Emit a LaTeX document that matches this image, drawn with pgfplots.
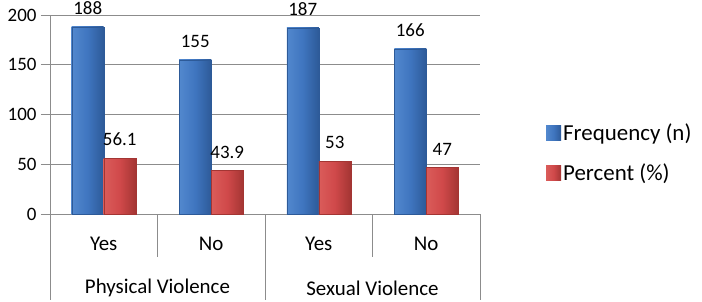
\documentclass[border=0pt]{standalone}
\usepackage{pgfplots}
\pgfplotsset{compat=1.18}
\usepackage{fontspec}
\setmainfont{Carlito}
\definecolor{bluemid}{HTML}{3F75BF}
\definecolor{bluelight}{HTML}{5288CE}
\definecolor{bluedark}{HTML}{2D5A98}
\definecolor{redmid}{HTML}{D0494A}
\definecolor{redlight}{HTML}{DA5C5A}
\definecolor{reddark}{HTML}{A33533}
\definecolor{axgray}{HTML}{8C8C8C}
\pgfplotsset{
  bluebar/.style={ybar, bar width=32bp, bar shift=-16bp, draw=bluedark, line width=0.3pt,
    left color=bluelight, right color=bluedark, middle color=bluemid,
    every node near coord/.append style={xshift=-16bp}},
  redbar/.style={ybar, bar width=32bp, bar shift=16bp, draw=reddark, line width=0.3pt,
    left color=redlight, right color=reddark, middle color=redmid,
    every node near coord/.append style={xshift=16bp}},
}
\begin{document}
\begin{tikzpicture}[font=\fontsize{21}{25}\selectfont]
\begin{axis}[
  scale only axis,
  width=430bp, height=199bp,
  xmin=-0.5, xmax=3.5,
  ymin=0, ymax=200,
  ytick={0,50,100,150,200},
  xtick={0,1,2,3},
  xticklabels={Yes,No,Yes,No},
  axis lines*=left,
  axis line style={axgray, line width=0.8pt},
  ymajorgrids,
  grid style={axgray, line width=0.8pt},
  major y tick style={axgray, line width=0.8pt},
  major x tick style={draw=none},
  tick align=outside,
  major tick length=9bp,
  yticklabel style={xshift=-1bp, font=\fontsize{19}{23}\selectfont},
  xticklabel style={yshift=-11bp},
  /pgf/number format/assume math mode=true,
  clip=false,
  nodes near coords,
  nodes near coords style={font=\fontsize{19}{23}\selectfont, inner sep=0bp, yshift=12bp},
  legend cell align=left,
  legend style={at={(rel axis cs:1.1465,0.307)}, anchor=west, draw=none, fill=none,
    font=\fontsize{23}{27}\selectfont, row sep=17bp,
    /tikz/every even column/.append style={column sep=2bp}},
  legend image code/.code={\path[#1, draw=none] (0bp,-7.5bp) rectangle (15bp,7.5bp);},
]
\addplot[bluebar] coordinates {(0,188)};
\addlegendentry{Frequency (n)}
\addplot[redbar] coordinates {(0,56.1)};
\addlegendentry{Percent (\%)}
\addplot[bluebar, forget plot] coordinates {(1,155)};
\addplot[bluebar, forget plot] coordinates {(2,187)};
\addplot[bluebar, forget plot] coordinates {(3,166)};
\addplot[redbar, forget plot] coordinates {(1,43.9)};
\addplot[redbar, forget plot] coordinates {(2,53)};
\addplot[redbar, forget plot] coordinates {(3,47)};
% separators below axis
\draw[axgray, line width=0.8pt] (axis cs:-0.5,0) -- ++(0pt,-86bp);
\draw[axgray, line width=0.8pt] (axis cs:0.5,0) -- ++(0pt,-43bp);
\draw[axgray, line width=0.8pt] (axis cs:1.5,0) -- ++(0pt,-86bp);
\draw[axgray, line width=0.8pt] (axis cs:2.5,0) -- ++(0pt,-43bp);
\draw[axgray, line width=0.8pt] (axis cs:3.5,0) -- ++(0pt,-86bp);
\node[inner sep=0pt] at ([yshift=-74bp]axis cs:0.5,0) {Physical Violence};
\node[inner sep=0pt] at ([yshift=-74bp]axis cs:2.5,0) {Sexual Violence};
\path ([xshift=-50bp,yshift=-88bp]rel axis cs:0,0) rectangle ([xshift=222bp,yshift=15bp]rel axis cs:1,1);
\end{axis}
\end{tikzpicture}
\end{document}
